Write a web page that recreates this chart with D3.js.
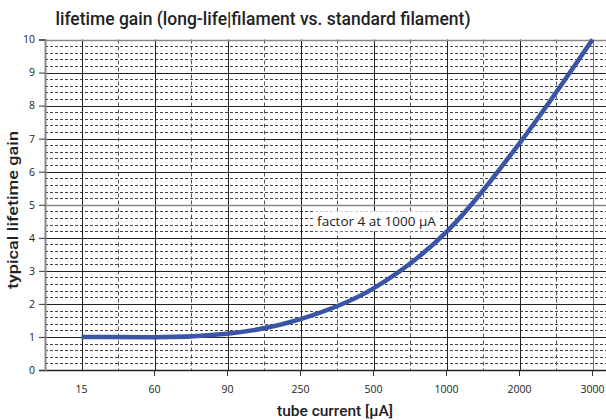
<!DOCTYPE html>
<html>
<head>
<meta charset="utf-8">
<script src="https://cdn.jsdelivr.net/npm/d3@7"></script>
<style>
  html, body { margin: 0; padding: 0; background: #fff; }
  svg { display: block; }
</style>
</head>
<body>
<script>
const categories = ["15", "60", "90", "250", "500", "1000", "2000", "3000"];
const gainValues = [1.0, 0.99, 1.1, 1.54, 2.47, 4.18, 6.86, 10.0];
const yTickLabels = [0, 1, 2, 3, 4, 5, 6, 7, 8, 9, 10];
const titleText = "lifetime gain (long-life|filament vs. standard filament)";
const xTitle = "tube current [μA]";
const yTitle = "typical lifetime gain";
const annotationText = "factor 4 at 1000 μA";

const W = 606, H = 420;
const svg = d3.select("body").append("svg").attr("width", W).attr("height", H);

const x = d3.scaleBand().domain(categories).range([45, 629]).paddingInner(0).paddingOuter(0);
const bw = x.bandwidth();
const cx = c => x(c) + bw / 2;
const y = d3.scaleLinear().domain([0, 10]).range([370, 39.5]);

const font = "'Open Sans', 'DejaVu Sans', sans-serif";
const tfont = "Roboto, 'Open Sans', sans-serif";

// minor horizontal dashed gridlines
const minor = d3.range(1, 50).map(i => i / 5).filter(v => Math.abs(v - Math.round(v)) > 1e-6);
svg.append("g").selectAll("line").data(minor).join("line")
  .attr("x1", 45).attr("x2", W)
  .attr("y1", d => Math.round(y(d)) + 0.5).attr("y2", d => Math.round(y(d)) + 0.5)
  .attr("stroke", "#444").attr("stroke-width", 1).attr("stroke-dasharray", "3,2");

// vertical dashed lines at band boundaries
const bounds = categories.slice(1);
svg.append("g").selectAll("line").data(bounds).join("line")
  .attr("x1", d => Math.round(x(d)) + 0.5).attr("x2", d => Math.round(x(d)) + 0.5)
  .attr("y1", y(10)).attr("y2", y(0))
  .attr("stroke", "#555").attr("stroke-width", 1).attr("stroke-dasharray", "4,3");

// vertical solid lines at category centers
svg.append("g").selectAll("line").data(categories).join("line")
  .attr("x1", d => Math.round(cx(d)) + 0.5).attr("x2", d => Math.round(cx(d)) + 0.5)
  .attr("y1", y(10)).attr("y2", y(0))
  .attr("stroke", (d, i) => i === categories.length - 1 ? "#777" : "#222").attr("stroke-width", 1);

// major horizontal gridlines
svg.append("g").selectAll("line").data(yTickLabels.filter(v => v > 0)).join("line")
  .attr("x1", 45).attr("x2", W)
  .attr("y1", d => Math.round(y(d)) + 0.5).attr("y2", d => Math.round(y(d)) + 0.5)
  .attr("stroke", d => (d === 10 || d === 5) ? "#888" : "#222")
  .attr("stroke-width", d => (d === 10 || d === 5) ? 1.5 : 1);

// x axis
const xAxis = d3.axisBottom(x).tickValues(bounds).tickSize(6).tickFormat("");
const gx = svg.append("g").attr("transform", `translate(0,${y(0)})`).call(xAxis);
gx.select(".domain").attr("d", `M45,0.5H${W}`).attr("stroke", "#222").attr("stroke-width", 1.5);
gx.selectAll(".tick line").attr("stroke", "#333");

// x labels at centers
svg.append("g").selectAll("text").data(categories).join("text")
  .attr("x", d => cx(d)).attr("y", 393)
  .attr("text-anchor", "middle")
  .attr("font-family", font).attr("font-size", 10.5).attr("fill", "#222")
  .text(d => d);

// y axis
const yAxis = d3.axisLeft(y).tickValues(yTickLabels).tickSize(6).tickPadding(4).tickFormat(d3.format("d"));
const gy = svg.append("g").attr("transform", "translate(45,0)").call(yAxis);
gy.select(".domain").attr("stroke", "#888").attr("stroke-width", 2);
gy.selectAll(".tick line").attr("stroke", "#333");
gy.selectAll(".tick text").attr("font-family", font).attr("font-size", 10.5).attr("fill", "#222");

// curve
const line = d3.line()
  .x((d, i) => cx(categories[i]))
  .y(d => y(d))
  .curve(d3.curveMonotoneX);
svg.append("path").datum(gainValues)
  .attr("d", line).attr("fill", "none")
  .attr("stroke", "#3a55a6").attr("stroke-width", 4.5).attr("stroke-linecap", "butt");

// annotation
const ax = cx("500") + 3, ay = y(4.5);
const ag = svg.append("g");
const at = ag.append("text")
  .attr("x", ax).attr("y", ay + 5)
  .attr("text-anchor", "middle")
  .attr("font-family", font).attr("font-size", 13.5).attr("fill", "#222")
  .text(annotationText);
const bb = at.node().getBBox();
ag.insert("rect", "text")
  .attr("x", bb.x - 3).attr("y", bb.y - 1).attr("width", bb.width + 6).attr("height", bb.height + 2)
  .attr("fill", "#fff");

// title
svg.append("text").attr("x", 263).attr("y", 25).attr("text-anchor", "middle")
  .attr("font-family", tfont).attr("font-weight", 500).attr("font-size", 18.5).attr("fill", "#222")
  .attr("textLength", 415).attr("lengthAdjust", "spacingAndGlyphs")
  .text(titleText);

// axis titles
svg.append("text").attr("x", 335).attr("y", 416).attr("text-anchor", "middle")
  .attr("font-family", tfont).attr("font-weight", 500).attr("font-size", 14).attr("fill", "#222")
  .attr("textLength", 116).attr("lengthAdjust", "spacingAndGlyphs")
  .text(xTitle);
svg.append("text").attr("transform", "translate(18,210) rotate(-90)").attr("text-anchor", "middle")
  .attr("font-family", tfont).attr("font-weight", 500).attr("font-size", 14).attr("fill", "#222")
  .attr("textLength", 158).attr("lengthAdjust", "spacingAndGlyphs")
  .text(yTitle);
</script>
</body>
</html>
